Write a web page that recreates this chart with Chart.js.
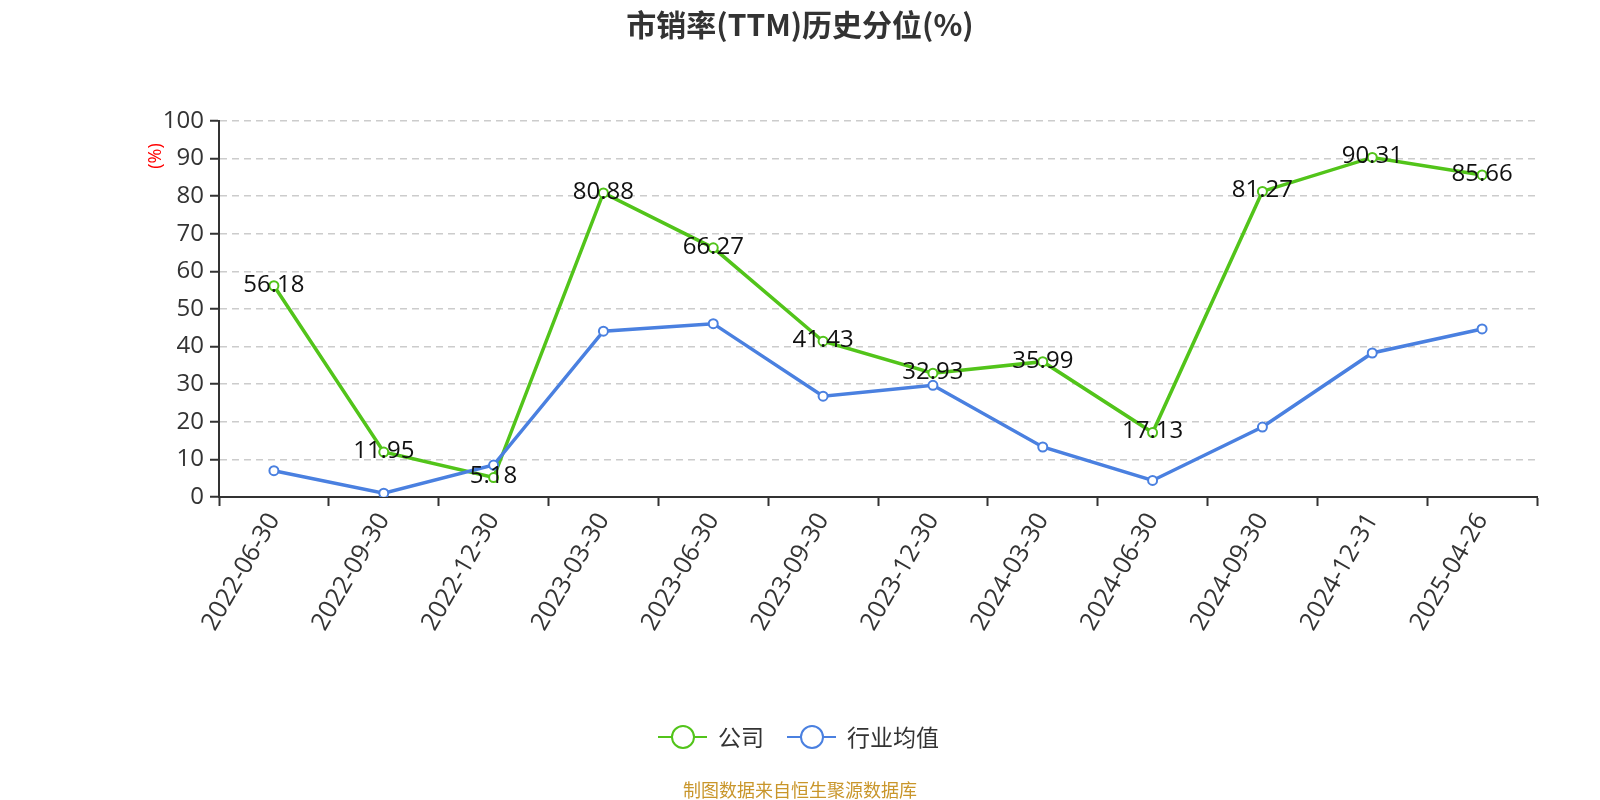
<!DOCTYPE html>
<html>
<head>
<meta charset="utf-8">
<script src="https://cdn.jsdelivr.net/npm/chart.js@4"></script>
<style>
  html, body { margin: 0; padding: 0; background: #fff; }
  #wrap { width: 1600px; height: 800px; }
</style>
</head>
<body>
<div id="wrap"><canvas id="chart" width="1600" height="800"></canvas></div>
<script>
/* data */
const dates = ['2022-06-30', '2022-09-30', '2022-12-30', '2023-03-30', '2023-06-30', '2023-09-30',
    '2023-12-30', '2024-03-30', '2024-06-30', '2024-09-30', '2024-12-31', '2025-04-26'];
const companyValues = [56.18, 11.95, 5.18, 80.88, 66.27, 41.43, 32.93, 35.99, 17.13, 81.27, 90.31, 85.66];
const industryValues = [7.0, 1.0, 8.5, 44.1, 46.1, 26.8, 29.7, 13.3, 4.4, 18.6, 38.3, 44.7];
const yTicks = [0, 10, 20, 30, 40, 50, 60, 70, 80, 90, 100];

const titleText = '市销率(TTM)历史分位(%)';
const seriesNames = ['公司', '行业均值'];
const sourceText = '制图数据来自恒生聚源数据库';

const green = '#52c41a';
const blue = '#4a80e0';
const fontFamily = "'Open Sans', 'Noto Sans CJK SC', sans-serif";
const cjkFont = "'Noto Sans CJK SC', 'Open Sans', sans-serif";

// draws value labels over the company line
const valueLabels = {
    id: 'valueLabels',
    afterDatasetsDraw(chart) {
        const ctx = chart.ctx;
        const meta = chart.getDatasetMeta(0);
        ctx.save();
        ctx.font = '24px ' + fontFamily;
        ctx.fillStyle = '#111';
        ctx.textAlign = 'center';
        ctx.textBaseline = 'middle';
        meta.data.forEach((pt, i) => {
            ctx.fillText(companyValues[i].toFixed(2), pt.x, pt.y - 1);
        });
        ctx.restore();
    }
};

// title, y unit, legend and source note
const decor = {
    id: 'decor',
    afterDraw(chart) {
        const ctx = chart.ctx;
        ctx.save();

        ctx.font = 'bold 30px ' + cjkFont;
        ctx.fillStyle = '#333';
        ctx.textAlign = 'center';
        ctx.textBaseline = 'middle';
        ctx.fillText(titleText, 800, 25);

        ctx.save();
        ctx.translate(156, 156);
        ctx.rotate(-Math.PI / 2);
        ctx.font = '18px ' + fontFamily;
        ctx.fillStyle = '#ff0000';
        ctx.fillText('(%)', 0, 0);
        ctx.restore();

        const items = [
            {name: seriesNames[0], color: green, x: 658},
            {name: seriesNames[1], color: blue, x: 787}
        ];
        const ly = 737;
        items.forEach(item => {
            ctx.strokeStyle = item.color;
            ctx.lineWidth = 2;
            ctx.beginPath();
            ctx.moveTo(item.x, ly);
            ctx.lineTo(item.x + 49, ly);
            ctx.stroke();
            ctx.beginPath();
            ctx.arc(item.x + 25, ly, 11, 0, Math.PI * 2);
            ctx.fillStyle = '#fff';
            ctx.fill();
            ctx.stroke();
            ctx.font = '23px ' + cjkFont;
            ctx.fillStyle = '#333';
            ctx.textAlign = 'left';
            ctx.fillText(item.name, item.x + 60, ly);
        });

        ctx.font = '18px ' + cjkFont;
        ctx.fillStyle = '#c9962b';
        ctx.textAlign = 'center';
        ctx.fillText(sourceText, 800, 790);
        ctx.restore();
    }
};

const context = document.getElementById('chart').getContext('2d');
new Chart(context, {
    type: 'line',
    data: {
        labels: dates,
        datasets: [
            {
                label: seriesNames[0],
                data: companyValues,
                borderColor: green,
                backgroundColor: '#fff',
                borderWidth: 3.5,
                pointRadius: 4.5,
                pointBorderWidth: 2,
                pointBackgroundColor: '#fff',
                pointBorderColor: green,
                tension: 0,
                order: 1
            },
            {
                label: seriesNames[1],
                data: industryValues,
                borderColor: blue,
                backgroundColor: '#fff',
                borderWidth: 3.5,
                pointRadius: 4.5,
                pointBorderWidth: 2,
                pointBackgroundColor: '#fff',
                pointBorderColor: blue,
                tension: 0,
                order: 0
            }
        ]
    },
    options: {
        responsive: false,
        animation: false,
        layout: {
            padding: {top: 121, left: 0, right: 63, bottom: 0}
        },
        plugins: {
            legend: {display: false},
            title: {display: false},
            tooltip: {enabled: false}
        },
        scales: {
            x: {
                offset: true,
                afterFit: scale => { scale.height = 303; },
                grid: {
                    offset: true,
                    drawOnChartArea: false,
                    drawTicks: true,
                    tickLength: 9,
                    tickColor: '#333',
                    tickWidth: 2
                },
                border: {color: '#333', width: 2},
                ticks: {
                    minRotation: 60,
                    maxRotation: 60,
                    autoSkip: false,
                    padding: 2,
                    color: '#333',
                    font: {size: 25, family: fontFamily}
                }
            },
            y: {
                min: 0,
                max: 100,
                afterFit: scale => { scale.width = 219; },
                afterBuildTicks: scale => { scale.ticks = yTicks.map(v => ({value: v})); },
                grid: {
                    color: '#cccccc',
                    lineWidth: 1.5,
                    tickLength: 9,
                    tickColor: '#333',
                    tickWidth: 2,
                    tickBorderDash: []
                },
                border: {color: '#333', width: 2, dash: [7, 5]},
                ticks: {
                    padding: 6,
                    color: '#333',
                    font: {size: 24, family: fontFamily}
                }
            }
        }
    },
    plugins: [valueLabels, decor]
});
</script>
</body>
</html>
